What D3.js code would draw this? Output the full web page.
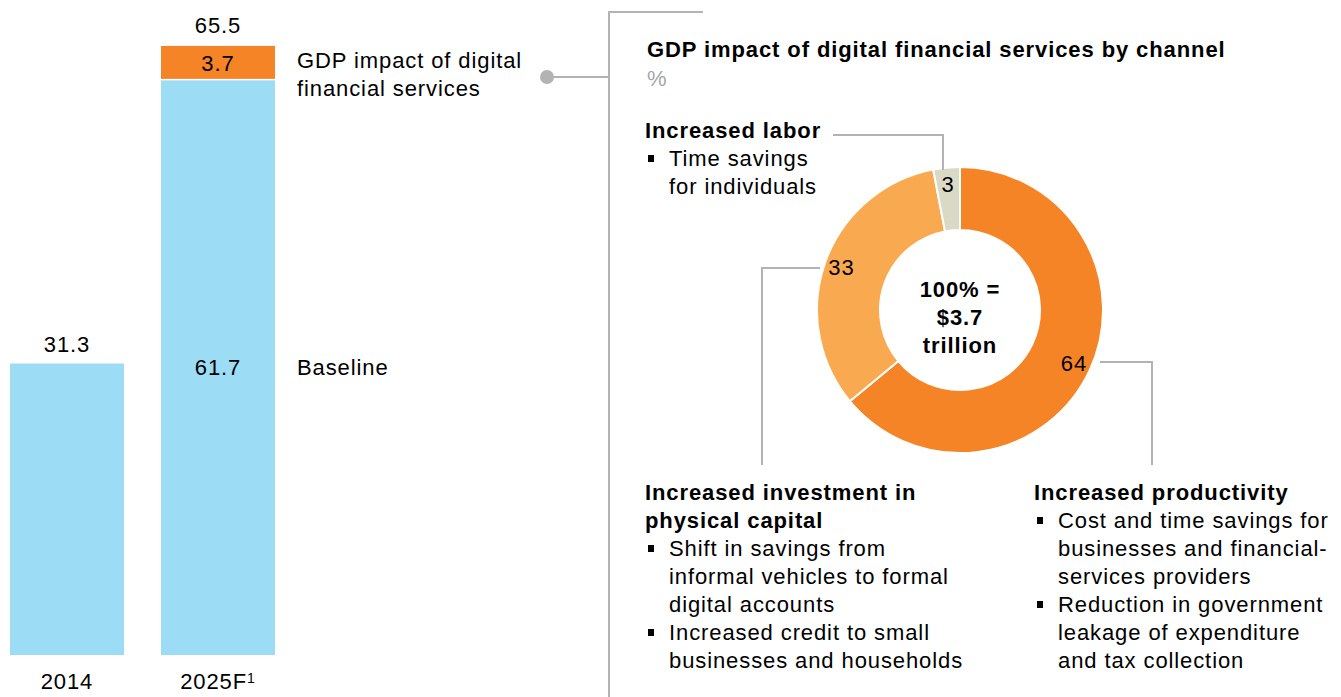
<!DOCTYPE html>
<meta charset="utf-8">
<script src="https://d3js.org/d3.v7.min.js"></script>
<style>
  body { margin: 0; background: #fff; }
  svg text { font-family: "Liberation Sans", Arial, sans-serif; fill: #000; letter-spacing: 0.9px; }
  .bold { font-weight: bold; }
</style>
<div id="chart"></div>
<script>
// Bar chart data (left side)
var years = ["2014", "2025F"];
var baseline = [31.3, 61.7];
var digital = [0, 3.7];
var totals = [31.3, 65.5];

// Donut data (right side), clockwise from 12 o'clock
var channels = ["Increased productivity", "Increased investment in physical capital", "Increased labor"];
var shares = [64, 33, 3];
var channelColors = ["#F58426", "#F9AA50", "#D9D9C6"];

var width = 1341, height = 697;
var fs = 22;
var lineGrey = "#B3B3B3";

var svg = d3.select("#chart").append("svg")
    .attr("width", width)
    .attr("height", height);

// ---- stacked bars ----
var x = d3.scaleBand().domain(years).range([10, 275]).paddingInner(0.245).paddingOuter(0);
var y = d3.scaleLinear().domain([0, 65.5]).range([655, 45]);

var bars = svg.append("g");

bars.selectAll(".base")
    .data(years)
    .enter().append("rect")
    .attr("x", function(d) { return x(d); })
    .attr("width", x.bandwidth())
    .attr("y", function(d, i) { return y(baseline[i]); })
    .attr("height", function(d, i) { return y(0) - y(baseline[i]); })
    .attr("fill", "#9CDCF5");

bars.selectAll(".dig")
    .data(years.filter(function(d, i) { return digital[i] > 0; }))
    .enter().append("rect")
    .attr("x", function(d) { return x(d); })
    .attr("width", x.bandwidth())
    .attr("y", function(d) { var i = years.indexOf(d); return y(baseline[i] + digital[i]); })
    .attr("height", function(d) { var i = years.indexOf(d); return y(baseline[i]) - y(baseline[i] + digital[i]) - 1.5; })
    .attr("fill", "#F58426");

// totals above bars
bars.selectAll(".total")
    .data(years)
    .enter().append("text")
    .attr("x", function(d) { return x(d) + x.bandwidth() / 2; })
    .attr("y", function(d, i) { return y(totals[i]) - 12; })
    .attr("text-anchor", "middle")
    .style("font-size", fs + "px")
    .text(function(d, i) { return totals[i].toFixed(1); });

// segment values inside the stacked bar (2025F)
var i2 = 1;
bars.append("text")
    .attr("x", x(years[i2]) + x.bandwidth() / 2)
    .attr("y", (y(baseline[i2]) + y(baseline[i2] + digital[i2])) / 2)
    .attr("dy", "0.35em")
    .attr("text-anchor", "middle")
    .style("font-size", fs + "px")
    .text(digital[i2].toFixed(1));

bars.append("text")
    .attr("x", x(years[i2]) + x.bandwidth() / 2)
    .attr("y", (y(0) + y(baseline[i2])) / 2)
    .attr("dy", "0.35em")
    .attr("text-anchor", "middle")
    .style("font-size", fs + "px")
    .text(baseline[i2].toFixed(1));

// category labels
var cat = bars.selectAll(".cat")
    .data(years)
    .enter().append("text")
    .attr("x", function(d) { return x(d) + x.bandwidth() / 2; })
    .attr("y", 689)
    .attr("text-anchor", "middle")
    .style("font-size", fs + "px")
    .text(function(d) { return d; });
cat.filter(function(d) { return d === "2025F"; })
    .append("tspan")
    .attr("dy", "-0.45em")
    .style("font-size", "14px")
    .text("1");

// series labels to the right of the bars
var legendX = 297;
svg.append("text")
    .attr("x", legendX)
    .attr("y", (y(0) + y(baseline[1])) / 2)
    .attr("dy", "0.35em")
    .style("font-size", fs + "px")
    .text("Baseline");

var gdpLabel = svg.append("text")
    .attr("x", legendX)
    .attr("y", 68)
    .style("font-size", fs + "px");
gdpLabel.append("tspan").attr("x", legendX).text("GDP impact of digital");
gdpLabel.append("tspan").attr("x", legendX).attr("dy", 28).text("financial services");

// connector from bar label to the right panel
svg.append("line")
    .attr("x1", 547).attr("y1", 77).attr("x2", 609).attr("y2", 77)
    .attr("stroke", lineGrey).attr("stroke-width", 2);
svg.append("circle")
    .attr("cx", 547).attr("cy", 77).attr("r", 7)
    .attr("fill", lineGrey);
svg.append("path")
    .attr("d", "M703,12 H609 V697")
    .attr("fill", "none").attr("stroke", lineGrey).attr("stroke-width", 2);

// ---- right panel ----
svg.append("text")
    .attr("class", "bold")
    .attr("x", 647).attr("y", 57)
    .style("font-size", fs + "px")
    .text("GDP impact of digital financial services by channel");
svg.append("text")
    .attr("x", 647).attr("y", 86)
    .style("font-size", fs + "px")
    .style("fill", "#A6A6A6")
    .text("%");

// donut
var cx = 960, cy = 310, rOuter = 143, rInner = 80;
var pie = d3.pie().sort(null).value(function(d) { return d; });
var arc = d3.arc().innerRadius(rInner).outerRadius(rOuter);
var labelArc = d3.arc().innerRadius(126).outerRadius(126);
var arcs = pie(shares);

var donut = svg.append("g").attr("transform", "translate(" + cx + "," + cy + ")");
donut.selectAll("path")
    .data(arcs)
    .enter().append("path")
    .attr("d", arc)
    .attr("fill", function(d, i) { return channelColors[i]; })
    .attr("stroke", "#fff")
    .attr("stroke-width", 2);

donut.selectAll(".val")
    .data(arcs)
    .enter().append("text")
    .attr("transform", function(d) { return "translate(" + labelArc.centroid(d) + ")"; })
    .attr("dy", "0.35em")
    .attr("text-anchor", "middle")
    .style("font-size", fs + "px")
    .text(function(d) { return d.data; });

var centerText = donut.append("text")
    .attr("class", "bold")
    .attr("text-anchor", "middle")
    .attr("y", -21)
    .style("font-size", fs + "px");
["100% =", "$3.7", "trillion"].forEach(function(t, k) {
    centerText.append("tspan").attr("x", 0).attr("dy", k === 0 ? "0.35em" : 28).text(t);
});

// leader lines
function leader(d) {
    svg.append("path")
        .attr("d", d)
        .attr("fill", "none")
        .attr("stroke", lineGrey)
        .attr("stroke-width", 2);
}
leader("M833,135 H943 V170");
leader("M820,268 H762 V465");
leader("M1100,362 H1152 V465");

// channel descriptions
function block(x0, y0, title, bullets) {
    var g = svg.append("g");
    var yy = y0;
    title.forEach(function(t) {
        g.append("text").attr("class", "bold")
            .attr("x", x0).attr("y", yy)
            .style("font-size", fs + "px")
            .text(t);
        yy += 28;
    });
    bullets.forEach(function(lines) {
        g.append("rect")
            .attr("x", x0 + 3).attr("y", yy - 11)
            .attr("width", 6).attr("height", 7)
            .attr("fill", "#000");
        lines.forEach(function(t) {
            g.append("text")
                .attr("x", x0 + 24).attr("y", yy)
                .style("font-size", fs + "px")
                .text(t);
            yy += 28;
        });
    });
}

block(645, 138, [channels[2]], [["Time savings", "for individuals"]]);
block(645, 500, ["Increased investment in", "physical capital"],
    [["Shift in savings from", "informal vehicles to formal", "digital accounts"],
     ["Increased credit to small", "businesses and households"]]);
block(1034, 500, [channels[0]],
    [["Cost and time savings for", "businesses and financial-", "services providers"],
     ["Reduction in government", "leakage of expenditure", "and tax collection"]]);
</script>
